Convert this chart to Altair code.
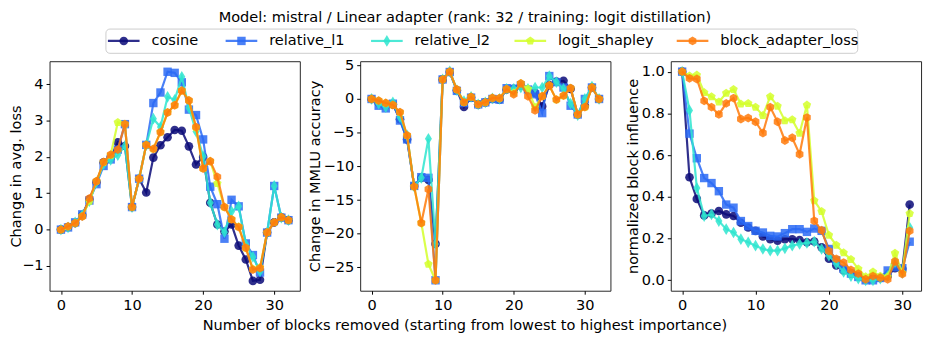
import altair as alt
import pandas as pd

# ---------------- data ----------------
methods = ["cosine", "relative_l1", "relative_l2", "logit_shapley", "block_adapter_loss"]
colors = ["#0b0b78", "#2a6af5", "#2ee5cf", "#d4ff2a", "#ff7a0a"]

blocks_loss = list(range(33))
blocks_mmlu = list(range(33))
blocks_infl = list(range(32))

loss_cosine = [0, 0.07, 0.18, 0.4, 0.83, 1.3, 1.85, 1.98, 2.4, 2.3, 0.62, 1.4, 1.02, 1.98, 2.32, 2.54, 2.74,
               2.72, 2.29, 1.79, 2.0, 0.74, 0.14, -0.05, 0.14, -0.44, -0.82, -1.41, -1.38, -0.08, 0.2, 0.34, 0.26]
loss_relative_l1 = [0, 0.06, 0.2, 0.42, 0.8, 1.25, 1.75, 1.93, 2.2, 2.9, 0.62, 1.4, 2.33, 3.48, 3.77, 4.34, 4.31,
                    4.05, 3.3, 3.15, 2.48, 1.18, 0.7, -0.25, 0.82, 0.64, -0.38, -0.7, -1.18, -0.08, 1.2, 0.33, 0.26]
loss_relative_l2 = [0, 0.06, 0.2, 0.4, 0.78, 1.3, 1.8, 1.92, 2.05, 2.3, 0.62, 1.4, 2.33, 3.05, 2.82, 3.65, 3.57,
                    4.2, 3.35, 2.7, 2.02, 0.74, 0.14, -0.07, 0.5, 0.64, -0.4, -0.75, -1.15, -0.08, 1.2, 0.33, 0.26]
loss_logit_shapley = [0, 0.08, 0.18, 0.37, 0.78, 1.33, 1.85, 2.05, 2.95, 2.9, 0.62, 1.4, 2.33, 2.22, 2.68, 3.22, 3.42,
                      3.82, 3.55, 2.8, 1.68, 1.88, 1.27, 0.62, 0.28, 0.08, -0.5, -1.08, -1.04, -0.08, 0.2, 0.34, 0.26]
loss_block_adapter_loss = [0, 0.09, 0.18, 0.36, 0.86, 1.33, 1.86, 2.06, 2.2, 2.9, 0.62, 1.4, 2.33, 2.22, 2.68, 3.22,
                           3.42, 3.82, 3.55, 2.82, 1.68, 1.88, 1.45, 0.62, 0.28, 0.07, -0.5, -1.1, -1.06, -0.08, 0.2,
                           0.34, 0.26]

mmlu_cosine = [0, -0.6, -1.0, -0.8, -3.0, -6.0, -12.9, -11.7, -12.0, -21.5, 2.9, 4.0, 1.3, -1.2, 0.2, -0.8, -0.5,
               0.0, -0.1, 1.4, 1.5, 2.0, 1.3, 0.9, -1.1, 2.05, 2.6, 2.7, 1.5, -2.3, -1.0, 1.7, 0]
mmlu_relative_l1 = [0, -1.0, -1.4, -0.7, -3.2, -6.0, -12.9, -11.6, -11.7, -26.9, 2.9, 4.0, 1.2, -0.6, 0.2, -0.8,
                    -0.5, 0.0, -0.1, 1.6, 1.5, 2.0, 1.4, 0.7, -2.1, 3.4, 2.5, 1.7, -1.0, -2.3, 0.0, 1.7, 0]
mmlu_relative_l2 = [0, -0.7, -1.2, -0.5, -2.7, -5.4, -13.0, -11.7, -5.9, -21.5, 2.9, 4.1, 1.3, -0.3, 0.3, -0.8,
                    -0.5, 0.1, 0.0, 1.5, 1.5, 1.7, 1.5, 1.7, 1.7, 3.4, 2.5, 1.5, -0.7, -2.4, 0.0, 1.85, 0]
mmlu_logit_shapley = [0, -0.25, -0.6, -0.9, -2.0, -5.4, -13.0, -18.4, -24.5, -26.9, 2.9, 4.05, 1.4, -0.5, 0.3,
                      -0.8, -0.5, 0.15, 0.1, 1.47, 0.9, 2.3, 1.5, -1.2, 0.4, 2.0, -0.1, 0.5, 1.6, -2.3, -1.2, 1.7, 0]
mmlu_block_adapter_loss = [0, -0.25, -0.6, -0.9, -1.95, -5.4, -13.0, -18.4, -13.4, -26.9, 2.9, 4.05, 1.4, -0.5,
                           0.3, -0.8, -0.5, 0.15, 0.1, 1.47, 0.7, 2.3, 0.4, -1.7, 0.4, 2.0, -0.1, 0.5, 1.6, -2.3,
                           -1.2, 1.7, 0]

infl_cosine = [1.0, 0.494, 0.39, 0.311, 0.32, 0.332, 0.316, 0.308, 0.276, 0.253, 0.237, 0.21, 0.197, 0.19, 0.197,
               0.197, 0.193, 0.182, 0.186, 0.158, 0.103, 0.071, 0.047, 0.032, 0.02, 0.005, 0.008, 0.011, 0.02,
               0.058, 0.055, 0.363]
infl_relative_l1 = [1.0, 0.703, 0.585, 0.49, 0.466, 0.427, 0.363, 0.348, 0.284, 0.26, 0.237, 0.229, 0.213, 0.21,
                    0.226, 0.245, 0.245, 0.232, 0.248, 0.237, 0.15, 0.095, 0.055, 0.032, 0.016, 0.0, 0.0, 0.011,
                    0.047, 0.063, 0.058, 0.185]
infl_relative_l2 = [1.0, 0.814, 0.442, 0.308, 0.316, 0.284, 0.245, 0.229, 0.197, 0.182, 0.166, 0.15, 0.142, 0.142,
                    0.153, 0.166, 0.174, 0.179, 0.185, 0.15, 0.118, 0.079, 0.04, 0.02, 0.008, 0.0, 0.0, 0.008, 0.02,
                    0.087, 0.036, 0.253]
infl_logit_shapley = [1.0, 0.98, 0.984, 0.9, 0.88, 0.855, 0.897, 0.915, 0.845, 0.848, 0.83, 0.79, 0.88, 0.835,
                      0.765, 0.77, 0.705, 0.84, 0.382, 0.33, 0.216, 0.168, 0.132, 0.1, 0.055, 0.017, 0.04, 0.02,
                      0.017, 0.13, 0.036, 0.32]
infl_block_adapter_loss = [1.0, 0.968, 0.965, 0.86, 0.83, 0.795, 0.848, 0.873, 0.773, 0.778, 0.76, 0.706, 0.83,
                           0.76, 0.67, 0.683, 0.604, 0.78, 0.285, 0.24, 0.14, 0.103, 0.085, 0.05, 0.032, 0.005, 0.02,
                           0.012, 0.005, 0.09, 0.03, 0.237]

x_ticks = [0, 10, 20, 30]
loss_ticks = [-1, 0, 1, 2, 3, 4]
mmlu_ticks = [-25, -20, -15, -10, -5, 0, 5]
infl_ticks = [0.0, 0.2, 0.4, 0.6, 0.8, 1.0]

title_text = "Model: mistral / Linear adapter (rank: 32 / training: logit distillation)"
x_title = "Number of blocks removed (starting from lowest to highest importance)"

# ---------------- style ----------------
FONT = "DejaVu Sans"
FS = 14.7
W, H = 253, 232
GAP = 61
TOTAL_W = 3 * W + 2 * GAP
OP = 0.85
PENTAGON = "M0,-1L0.951,-0.309L0.588,0.809L-0.588,0.809L-0.951,-0.309Z"
HEXAGON = "M0,-1L0.866,-0.5L0.866,0.5L0,1L-0.866,0.5L-0.866,-0.5Z"
THIN_DIAMOND = "M0,-1L0.6,0L0,1L-0.6,0Z"
shapes = ["circle", "square", THIN_DIAMOND, PENTAGON, HEXAGON]
sizes = [76, 72, 140, 80, 80]

COL = dict(zip(methods, colors))
SH = dict(zip(methods, shapes))
SZ = dict(zip(methods, sizes))

loss_data = dict(zip(methods, [loss_cosine, loss_relative_l1, loss_relative_l2, loss_logit_shapley,
                               loss_block_adapter_loss]))
mmlu_data = dict(zip(methods, [mmlu_cosine, mmlu_relative_l1, mmlu_relative_l2, mmlu_logit_shapley,
                               mmlu_block_adapter_loss]))
infl_data = dict(zip(methods, [infl_cosine, infl_relative_l1, infl_relative_l2, infl_logit_shapley,
                               infl_block_adapter_loss]))


def panel(data, xs, xdom, ydom, yticks, yfmt, ytitle, tpad):
    layers = []
    for m in methods:
        df = pd.DataFrame({"x": xs, "y": data[m]})
        base = alt.Chart(df).encode(
            x=alt.X("x:Q", scale=alt.Scale(domain=xdom, nice=False, zero=False),
                    axis=alt.Axis(values=x_ticks, format="d", title=None)),
            y=alt.Y("y:Q", scale=alt.Scale(domain=ydom, nice=False, zero=False),
                    axis=alt.Axis(values=yticks, format=yfmt, title=ytitle, titlePadding=tpad)),
        )
        layers.append(base.mark_line(color=COL[m], strokeWidth=2.2, opacity=OP))
        layers.append(base.mark_point(color=COL[m], filled=True, shape=SH[m], size=SZ[m], opacity=OP))
    return alt.layer(*layers).properties(width=W, height=H)


p1 = panel(loss_data, blocks_loss, [-1.6, 33.6], [-1.68, 4.63], loss_ticks, "d", "Change in avg. loss", -2)
p2 = panel(mmlu_data, blocks_mmlu, [-1.6, 33.6], [-28.45, 5.6], mmlu_ticks, "d", "Change in MMLU accuracy", 1)
p3 = panel(infl_data, blocks_infl, [-1.55, 32.55], [-0.05, 1.05], infl_ticks, ".1f",
           "normalized block influence", 1)

# ---------------- legend (built by hand, matplotlib-style) ----------------
LEG_H = 25
legend_marker_x = [75, 194, 341, 486, 650]
legend_box = [57, 817]
leg_df = pd.DataFrame({"method": methods, "mx": legend_marker_x})
leg_df["x1"] = leg_df["mx"] - 16
leg_df["x2"] = leg_df["mx"] + 16
leg_df["tx"] = leg_df["mx"] + 28
lx = alt.Scale(domain=[0, TOTAL_W], nice=False, zero=False)
ymid = alt.value(LEG_H / 2)

leg_layers = [
    alt.Chart(pd.DataFrame({"a": [legend_box[0]], "b": [legend_box[1]]})).mark_rect(
        fill="white", stroke="#cccccc", strokeWidth=1, cornerRadius=4
    ).encode(x=alt.X("a:Q", scale=lx, axis=None), x2="b:Q", y=alt.value(0.5), y2=alt.value(LEG_H))
]
for m in methods:
    d = leg_df[leg_df["method"] == m]
    leg_layers.append(alt.Chart(d).mark_rule(color=COL[m], strokeWidth=2.2, opacity=OP).encode(
        x=alt.X("x1:Q", scale=lx, axis=None), x2="x2:Q", y=ymid))
    leg_layers.append(alt.Chart(d).mark_point(color=COL[m], filled=True, shape=SH[m], size=SZ[m],
                                              opacity=OP).encode(x=alt.X("mx:Q", scale=lx, axis=None), y=ymid))
leg_layers.append(alt.Chart(leg_df).mark_text(align="left", baseline="middle", fontSize=FS, font=FONT,
                                              color="black").encode(
    x=alt.X("tx:Q", scale=lx, axis=None), y=ymid, text="method:N"))
legend = alt.layer(*leg_layers).properties(width=TOTAL_W, height=LEG_H,
                                           view=alt.ViewBackground(strokeOpacity=0))

panels = alt.hconcat(p1, p2, p3, spacing=GAP, bounds="flush").properties(
    title=alt.TitleParams(text=x_title, orient="bottom", anchor="middle", offset=6, fontSize=FS,
                          fontWeight="normal", font=FONT, color="black"))

chart = alt.vconcat(legend, panels, spacing=8, bounds="flush").properties(
    title=alt.TitleParams(text=title_text, anchor="middle", offset=4, fontSize=FS, fontWeight="normal",
                          font=FONT, color="black"),
    padding={"left": 0, "top": 0, "right": 4, "bottom": 4},
    background="white",
).configure_axis(
    grid=False, domain=False, labelFont=FONT, labelFontSize=FS, labelColor="black",
    titleFont=FONT, titleFontSize=FS, titleFontWeight="normal", titleColor="black",
    tickColor="black", tickSize=3.5, tickWidth=1, labelPadding=3,
).configure_view(stroke="#262626", strokeWidth=1)

chart.save("out.html", embed_options={"renderer": "svg", "actions": False})
